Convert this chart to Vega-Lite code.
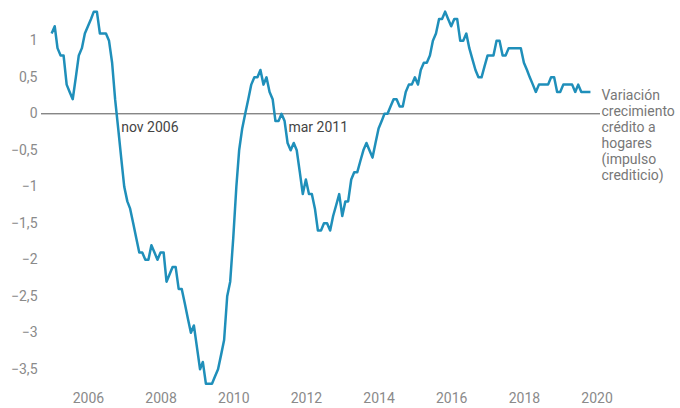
{
  "$schema": "https://vega.github.io/schema/vega-lite/v6.json",
  "width": 559,
  "height": 378,
  "autosize": {"type": "none"},
  "padding": {"left": 41, "top": 8, "right": 80, "bottom": 22},
  "background": "white",
  "config": {
    "view": {"stroke": null},
    "font": "Roboto",
    "axis": {"labelFont": "Roboto", "labelFontSize": 14, "labelColor": "#8a8a8a", "grid": false, "domain": false, "ticks": false, "title": null}
  },
  "datasets": {
    "series": [
      {"date": "2005-01-01", "v": 1.1}, {"date": "2005-02-01", "v": 1.2}, {"date": "2005-03-01", "v": 0.9}, {"date": "2005-04-01", "v": 0.8}, {"date": "2005-05-01", "v": 0.8}, {"date": "2005-06-01", "v": 0.4}, {"date": "2005-07-01", "v": 0.3}, {"date": "2005-08-01", "v": 0.2}, {"date": "2005-09-01", "v": 0.5}, {"date": "2005-10-01", "v": 0.8}, {"date": "2005-11-01", "v": 0.9}, {"date": "2005-12-01", "v": 1.1},
      {"date": "2006-01-01", "v": 1.2}, {"date": "2006-02-01", "v": 1.3}, {"date": "2006-03-01", "v": 1.4}, {"date": "2006-04-01", "v": 1.4}, {"date": "2006-05-01", "v": 1.1}, {"date": "2006-06-01", "v": 1.1}, {"date": "2006-07-01", "v": 1.1}, {"date": "2006-08-01", "v": 1.0}, {"date": "2006-09-01", "v": 0.7}, {"date": "2006-10-01", "v": 0.2}, {"date": "2006-11-01", "v": -0.2}, {"date": "2006-12-01", "v": -0.6},
      {"date": "2007-01-01", "v": -1.0}, {"date": "2007-02-01", "v": -1.2}, {"date": "2007-03-01", "v": -1.3}, {"date": "2007-04-01", "v": -1.5}, {"date": "2007-05-01", "v": -1.7}, {"date": "2007-06-01", "v": -1.9}, {"date": "2007-07-01", "v": -1.9}, {"date": "2007-08-01", "v": -2.0}, {"date": "2007-09-01", "v": -2.0}, {"date": "2007-10-01", "v": -1.8}, {"date": "2007-11-01", "v": -1.9}, {"date": "2007-12-01", "v": -2.0},
      {"date": "2008-01-01", "v": -1.9}, {"date": "2008-02-01", "v": -1.9}, {"date": "2008-03-01", "v": -2.3}, {"date": "2008-04-01", "v": -2.2}, {"date": "2008-05-01", "v": -2.1}, {"date": "2008-06-01", "v": -2.1}, {"date": "2008-07-01", "v": -2.4}, {"date": "2008-08-01", "v": -2.4}, {"date": "2008-09-01", "v": -2.6}, {"date": "2008-10-01", "v": -2.8}, {"date": "2008-11-01", "v": -3.0}, {"date": "2008-12-01", "v": -2.9},
      {"date": "2009-01-01", "v": -3.2}, {"date": "2009-02-01", "v": -3.5}, {"date": "2009-03-01", "v": -3.4}, {"date": "2009-04-01", "v": -3.7}, {"date": "2009-05-01", "v": -3.7}, {"date": "2009-06-01", "v": -3.7}, {"date": "2009-07-01", "v": -3.6}, {"date": "2009-08-01", "v": -3.5}, {"date": "2009-09-01", "v": -3.3}, {"date": "2009-10-01", "v": -3.1}, {"date": "2009-11-01", "v": -2.5}, {"date": "2009-12-01", "v": -2.3},
      {"date": "2010-01-01", "v": -1.7}, {"date": "2010-02-01", "v": -1.0}, {"date": "2010-03-01", "v": -0.5}, {"date": "2010-04-01", "v": -0.2}, {"date": "2010-05-01", "v": 0.0}, {"date": "2010-06-01", "v": 0.2}, {"date": "2010-07-01", "v": 0.4}, {"date": "2010-08-01", "v": 0.5}, {"date": "2010-09-01", "v": 0.5}, {"date": "2010-10-01", "v": 0.6}, {"date": "2010-11-01", "v": 0.4}, {"date": "2010-12-01", "v": 0.5},
      {"date": "2011-01-01", "v": 0.3}, {"date": "2011-02-01", "v": 0.2}, {"date": "2011-03-01", "v": -0.1}, {"date": "2011-04-01", "v": -0.1}, {"date": "2011-05-01", "v": 0.0}, {"date": "2011-06-01", "v": -0.1}, {"date": "2011-07-01", "v": -0.4}, {"date": "2011-08-01", "v": -0.5}, {"date": "2011-09-01", "v": -0.4}, {"date": "2011-10-01", "v": -0.5}, {"date": "2011-11-01", "v": -0.8}, {"date": "2011-12-01", "v": -1.1},
      {"date": "2012-01-01", "v": -0.9}, {"date": "2012-02-01", "v": -1.1}, {"date": "2012-03-01", "v": -1.1}, {"date": "2012-04-01", "v": -1.3}, {"date": "2012-05-01", "v": -1.6}, {"date": "2012-06-01", "v": -1.6}, {"date": "2012-07-01", "v": -1.5}, {"date": "2012-08-01", "v": -1.5}, {"date": "2012-09-01", "v": -1.6}, {"date": "2012-10-01", "v": -1.4}, {"date": "2012-11-01", "v": -1.25}, {"date": "2012-12-01", "v": -1.1},
      {"date": "2013-01-01", "v": -1.4}, {"date": "2013-02-01", "v": -1.2}, {"date": "2013-03-01", "v": -1.2}, {"date": "2013-04-01", "v": -0.9}, {"date": "2013-05-01", "v": -0.8}, {"date": "2013-06-01", "v": -0.8}, {"date": "2013-07-01", "v": -0.65}, {"date": "2013-08-01", "v": -0.5}, {"date": "2013-09-01", "v": -0.4}, {"date": "2013-10-01", "v": -0.5}, {"date": "2013-11-01", "v": -0.6}, {"date": "2013-12-01", "v": -0.4},
      {"date": "2014-01-01", "v": -0.2}, {"date": "2014-02-01", "v": -0.1}, {"date": "2014-03-01", "v": 0.0}, {"date": "2014-04-01", "v": 0.0}, {"date": "2014-05-01", "v": 0.1}, {"date": "2014-06-01", "v": 0.2}, {"date": "2014-07-01", "v": 0.2}, {"date": "2014-08-01", "v": 0.1}, {"date": "2014-09-01", "v": 0.1}, {"date": "2014-10-01", "v": 0.3}, {"date": "2014-11-01", "v": 0.4}, {"date": "2014-12-01", "v": 0.4},
      {"date": "2015-01-01", "v": 0.5}, {"date": "2015-02-01", "v": 0.4}, {"date": "2015-03-01", "v": 0.6}, {"date": "2015-04-01", "v": 0.7}, {"date": "2015-05-01", "v": 0.7}, {"date": "2015-06-01", "v": 0.8}, {"date": "2015-07-01", "v": 1.0}, {"date": "2015-08-01", "v": 1.1}, {"date": "2015-09-01", "v": 1.3}, {"date": "2015-10-01", "v": 1.3}, {"date": "2015-11-01", "v": 1.4}, {"date": "2015-12-01", "v": 1.3},
      {"date": "2016-01-01", "v": 1.2}, {"date": "2016-02-01", "v": 1.3}, {"date": "2016-03-01", "v": 1.3}, {"date": "2016-04-01", "v": 1.0}, {"date": "2016-05-01", "v": 1.0}, {"date": "2016-06-01", "v": 1.1}, {"date": "2016-07-01", "v": 0.9}, {"date": "2016-08-01", "v": 0.75}, {"date": "2016-09-01", "v": 0.6}, {"date": "2016-10-01", "v": 0.5}, {"date": "2016-11-01", "v": 0.5}, {"date": "2016-12-01", "v": 0.65},
      {"date": "2017-01-01", "v": 0.8}, {"date": "2017-02-01", "v": 0.8}, {"date": "2017-03-01", "v": 0.8}, {"date": "2017-04-01", "v": 1.0}, {"date": "2017-05-01", "v": 1.0}, {"date": "2017-06-01", "v": 0.8}, {"date": "2017-07-01", "v": 0.8}, {"date": "2017-08-01", "v": 0.9}, {"date": "2017-09-01", "v": 0.9}, {"date": "2017-10-01", "v": 0.9}, {"date": "2017-11-01", "v": 0.9}, {"date": "2017-12-01", "v": 0.9},
      {"date": "2018-01-01", "v": 0.7}, {"date": "2018-02-01", "v": 0.6}, {"date": "2018-03-01", "v": 0.5}, {"date": "2018-04-01", "v": 0.4}, {"date": "2018-05-01", "v": 0.3}, {"date": "2018-06-01", "v": 0.4}, {"date": "2018-07-01", "v": 0.4}, {"date": "2018-08-01", "v": 0.4}, {"date": "2018-09-01", "v": 0.4}, {"date": "2018-10-01", "v": 0.5}, {"date": "2018-11-01", "v": 0.5}, {"date": "2018-12-01", "v": 0.3},
      {"date": "2019-01-01", "v": 0.3}, {"date": "2019-02-01", "v": 0.4}, {"date": "2019-03-01", "v": 0.4}, {"date": "2019-04-01", "v": 0.4}, {"date": "2019-05-01", "v": 0.4}, {"date": "2019-06-01", "v": 0.3}, {"date": "2019-07-01", "v": 0.4}, {"date": "2019-08-01", "v": 0.3}, {"date": "2019-09-01", "v": 0.3}, {"date": "2019-10-01", "v": 0.3}, {"date": "2019-11-01", "v": 0.3}
    ]
  },
  "encoding": {
    "x": {
      "field": "date", "type": "temporal",
      "scale": {"type": "utc", "domain": [{"year": 2004, "month": 9, "date": 16, "utc": true}, {"year": 2020, "month": 2, "date": 5, "utc": true}]},
      "axis": {
        "values": [{"year": 2006, "utc": true}, {"year": 2008, "utc": true}, {"year": 2010, "utc": true}, {"year": 2012, "utc": true}, {"year": 2014, "utc": true}, {"year": 2016, "utc": true}, {"year": 2018, "utc": true}, {"year": 2020, "utc": true}],
        "format": "%Y", "labelPadding": 5, "labelFlush": false, "labelOverlap": false
      }
    },
    "y": {
      "field": "v", "type": "quantitative",
      "scale": {"domain": [-3.73, 1.45], "nice": false, "zero": false},
      "axis": {
        "values": [-3.5, -3, -2.5, -2, -1.5, -1, -0.5, 0, 0.5, 1],
        "labelExpr": "replace(format(datum.value, '~f'), '.', ',')",
        "labelPadding": 4
      }
    }
  },
  "layer": [
    {
      "data": {"values": [{"y0": 0}]},
      "mark": {"type": "rule", "color": "#555555", "strokeWidth": 1},
      "encoding": {"y": {"field": "y0", "type": "quantitative"}, "x": null}
    },
    {
      "data": {"name": "series"},
      "mark": {"type": "line", "color": "#1f8fba", "strokeWidth": 2.5, "strokeJoin": "round", "clip": false}
    },
    {
      "data": {"values": [{"date": "2006-11-01", "v": 0, "t": "nov 2006"}]},
      "mark": {"type": "text", "align": "left", "baseline": "middle", "dx": 3, "dy": 14, "fontSize": 14, "font": "Roboto", "color": "#444444"},
      "encoding": {"text": {"field": "t"}}
    },
    {
      "data": {"values": [{"date": "2011-03-01", "v": 0, "t": "mar 2011"}]},
      "mark": {"type": "text", "align": "left", "baseline": "middle", "dx": 13, "dy": 14, "fontSize": 14, "font": "Roboto", "color": "#444444"},
      "encoding": {"text": {"field": "t"}}
    },
    {
      "data": {"values": [{"date": "2019-11-01", "v": 0.3, "t": "Variación\ncrecimiento\ncrédito a\nhogares\n(impulso\ncrediticio)"}]},
      "mark": {"type": "text", "align": "left", "baseline": "middle", "dx": 11, "dy": 4, "fontSize": 14, "font": "Roboto", "color": "#777777", "lineBreak": "\n", "lineHeight": 16},
      "encoding": {"text": {"field": "t"}}
    }
  ]
}
